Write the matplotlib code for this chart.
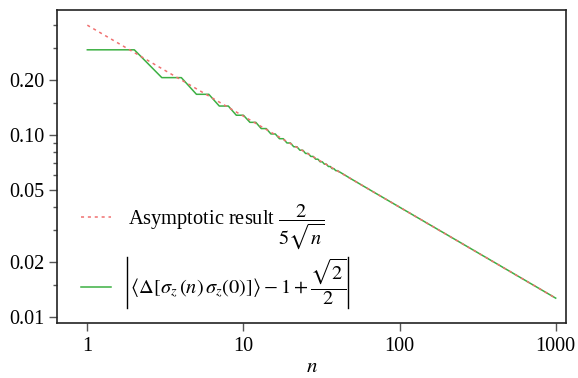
import matplotlib
matplotlib.use("Agg")
import matplotlib.pyplot as plt
from matplotlib.lines import Line2D
from matplotlib.ticker import FixedLocator, NullFormatter, FixedFormatter

plt.rcParams['font.family'] = ['Liberation Serif', 'DejaVu Serif']
plt.rcParams['mathtext.fontset'] = 'stix'

# Asymptotic result 2/(5 sqrt(n)) endpoints
asym_n = [1, 1000]
asym_v = [0.400, 0.01265]

# Exact curve: staircase for small n (pairs of equal values), then smooth
exact_n = [1, 2, 3, 4, 5, 6, 7, 8, 9, 10, 11, 12, 13, 14, 15, 16, 17, 18, 19, 20,
           21, 22, 23, 24, 25, 26, 27, 28, 29, 30, 31, 32, 33, 34, 35, 36, 37, 38,
           39, 40, 50, 70, 100, 200, 500, 1000]
exact_v = [0.2929, 0.2929, 0.2060, 0.2060, 0.1668, 0.1668, 0.1438, 0.1438,
           0.1280, 0.1280, 0.1170, 0.1170, 0.1081, 0.1081, 0.1010, 0.1010,
           0.0951, 0.0951, 0.0901, 0.0901, 0.0859, 0.0859, 0.0822, 0.0822,
           0.0789, 0.0789, 0.0760, 0.0760, 0.0734, 0.0734, 0.0710, 0.0710,
           0.0689, 0.0689, 0.0669, 0.0669, 0.0651, 0.0651, 0.0635, 0.0635,
           0.0566, 0.0478, 0.0400, 0.0283, 0.0179, 0.01265]

x_major = [1, 10, 100, 1000]
x_labels = ["1", "10", "100", "1000"]
y_major = [0.01, 0.02, 0.05, 0.10, 0.20]
y_labels = ["0.01", "0.02", "0.05", "0.10", "0.20"]
y_minor = [0.015, 0.03, 0.04, 0.06, 0.07, 0.08, 0.09, 0.15, 0.3, 0.4]

W, H = 578, 378
fig = plt.figure(figsize=(W / 100, H / 100), dpi=100)
ax = fig.add_axes([0.0991, 0.1447, 0.9792 - 0.0991, 0.9728 - 0.1447])

red = '#f07070'
green = '#3cb043'

ax.plot(asym_n, asym_v, linestyle=(0, (2, 2.5)), color=red, lw=1.1,
        label=r"Asymptotic result $\dfrac{2}{5\sqrt{n}}$", zorder=3)
ax.plot(exact_n, exact_v, color=green, lw=1.1,
        label=r"$\,\langle\Delta[\sigma_z\,(n)\,\sigma_z(0)]\rangle - 1 + \dfrac{\sqrt{2}}{2}\;$",
        zorder=2)

ax.set_xscale('log')
ax.set_yscale('log')
ax.set_xlim(0.642, 1164)
ax.set_ylim(0.0092, 0.483)

ax.xaxis.set_major_locator(FixedLocator(x_major))
ax.xaxis.set_major_formatter(FixedFormatter(x_labels))
ax.xaxis.set_minor_locator(FixedLocator([]))
ax.yaxis.set_major_locator(FixedLocator(y_major))
ax.yaxis.set_major_formatter(FixedFormatter(y_labels))
ax.yaxis.set_minor_locator(FixedLocator(y_minor))
ax.yaxis.set_minor_formatter(NullFormatter())

ax.tick_params(axis='both', which='major', direction='out', length=6, width=1,
               color='#555555', labelsize=14.5)
ax.tick_params(axis='x', which='major', pad=4)
ax.tick_params(axis='y', which='major', pad=3)
ax.tick_params(axis='y', which='minor', direction='out', length=3, width=1,
               color='#555555')
ax.tick_params(top=False, right=False)
for s in ax.spines.values():
    s.set_linewidth(1.2)
    s.set_color('#222222')

ax.set_xlabel(r"$n$", fontsize=15, labelpad=1)

leg = ax.legend(loc='upper left', bbox_to_anchor=(0.03, 0.415), frameon=False,
                fontsize=14.7, handlelength=1.5, handletextpad=0.8,
                labelspacing=0.3, borderaxespad=0)

# absolute-value bars around the second legend label
fig.canvas.draw()
renderer = fig.canvas.get_renderer()
bb = leg.get_texts()[1].get_window_extent(renderer)
inv = fig.transFigure.inverted()
y0, y1 = bb.y0 - 1, bb.y1 + 0
for xb in (bb.x0 - 1, bb.x1 + 2):
    (fx0, fy0) = inv.transform((xb, y0))
    (fx1, fy1) = inv.transform((xb, y1))
    fig.add_artist(Line2D([fx0, fx1], [fy0, fy1], transform=fig.transFigure,
                          color='black', lw=1.0))

fig.savefig("out.png", dpi=100)
